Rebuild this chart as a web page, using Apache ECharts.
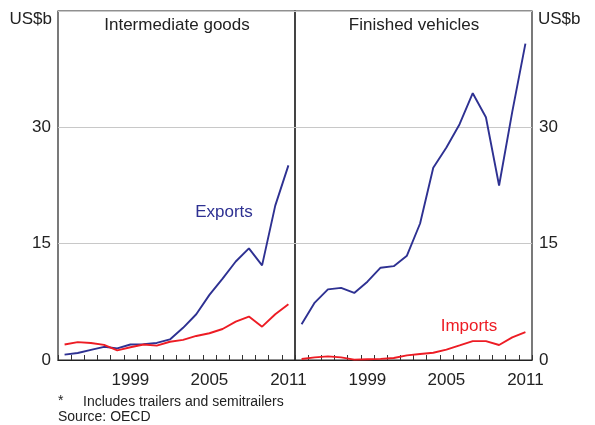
<!DOCTYPE html>
<html><head><meta charset="utf-8">
<script src="https://cdn.jsdelivr.net/npm/echarts@6/dist/echarts.min.js"></script>
<style>html,body{margin:0;padding:0;background:#fff}#c{width:595px;height:425px}</style>
</head><body><div id="c"></div>
<script>
const years = ['1994','1995','1996','1997','1998','1999','2000','2001','2002','2003','2004','2005','2006','2007','2008','2009','2010','2011'];
const interExports = [0.7,0.9,1.3,1.7,1.5,2.0,2.05,2.2,2.65,4.15,5.9,8.4,10.5,12.7,14.4,12.2,19.9,25.1];
const interImports = [2.0,2.3,2.2,1.95,1.25,1.65,2.0,1.85,2.35,2.6,3.1,3.45,4.0,4.95,5.6,4.3,5.9,7.2];
const finExports = [4.6,7.4,9.1,9.3,8.65,10.1,11.9,12.1,13.45,17.6,24.8,27.4,30.4,34.4,31.3,22.5,32.0,40.8];
const finImports = [0.13,0.34,0.47,0.34,0.05,0.1,0.15,0.26,0.6,0.77,0.94,1.33,1.88,2.44,2.44,1.93,2.91,3.6];
const yTicks = [0,15,30,45];
const shownYears = ['1999','2005','2011'];

const BLUE = '#2e3192', RED = '#ed1c24', TXT = '#222', FONT = 'Liberation Sans, Arial, sans-serif';
const chart = echarts.init(document.getElementById('c'), null, {renderer:'canvas'});

function xAxis(gi){
  return {type:'category', gridIndex:gi, data:years, boundaryGap:true,
    axisLine:{show:true, lineStyle:{color:'#222', width:1.2}},
    axisTick:{show:true, inside:true, length:5, interval:0, lineStyle:{color:'#333'}},
    axisLabel:{interval:0, margin:12, color:TXT, fontSize:17, fontFamily:FONT,
      formatter:v=>shownYears.includes(v)?v:''},
    splitLine:{show:false}};
}
function yAxis(gi,pos){
  return {type:'value', gridIndex:gi, position:pos, min:yTicks[0], max:yTicks[yTicks.length-1], interval:15,
    axisLine:{show:false}, axisTick:{show:false},
    axisLabel:{margin:7, color:TXT, fontSize:17, fontFamily:FONT, formatter:v=>v===45?'':String(v)},
    splitLine:{show:true, lineStyle:{color:'#c8c8c8', width:1}}};
}
function line(name,data,color,gi){
  return {name, type:'line', xAxisIndex:gi, yAxisIndex:gi, data, symbol:'none',
    lineStyle:{color, width:1.9}, itemStyle:{color}, animation:false};
}
function txt(text,x,y,opts){
  return Object.assign({type:'text', x, y, style:Object.assign({text, fill:TXT, font:'17px '+FONT, textVerticalAlign:'middle'}, opts||{})});
}

chart.setOption({
  animation:false,
  grid:[
    {left:58, top:11, width:237, height:349, show:true, borderColor:'#222', borderWidth:1.2, backgroundColor:'transparent'},
    {left:295, top:11, width:237, height:349, show:true, borderColor:'#222', borderWidth:1.2, backgroundColor:'transparent'}
  ],
  xAxis:[xAxis(0), xAxis(1)],
  yAxis:[yAxis(0,'left'), yAxis(1,'right')],
  series:[
    line('Exports',interExports,BLUE,0),
    line('Imports',interImports,RED,0),
    line('Exports',finExports,BLUE,1),
    line('Imports',finImports,RED,1)
  ],
  graphic:[
    txt('Intermediate goods',177,25,{textAlign:'center'}),
    txt('Finished vehicles',414,25,{textAlign:'center'}),
    txt('US$b',52,19,{textAlign:'right'}),
    txt('US$b',538,19,{textAlign:'left'}),
    txt('Exports',224,212,{textAlign:'center', fill:BLUE}),
    txt('Imports',469,326,{textAlign:'center', fill:RED}),
    txt('*',58,401,{font:'14px '+FONT}),
    txt('Includes trailers and semitrailers',83,402,{font:'14px '+FONT}),
    txt('Source: OECD',58,417,{font:'14px '+FONT})
  ]
});
</script></body></html>
